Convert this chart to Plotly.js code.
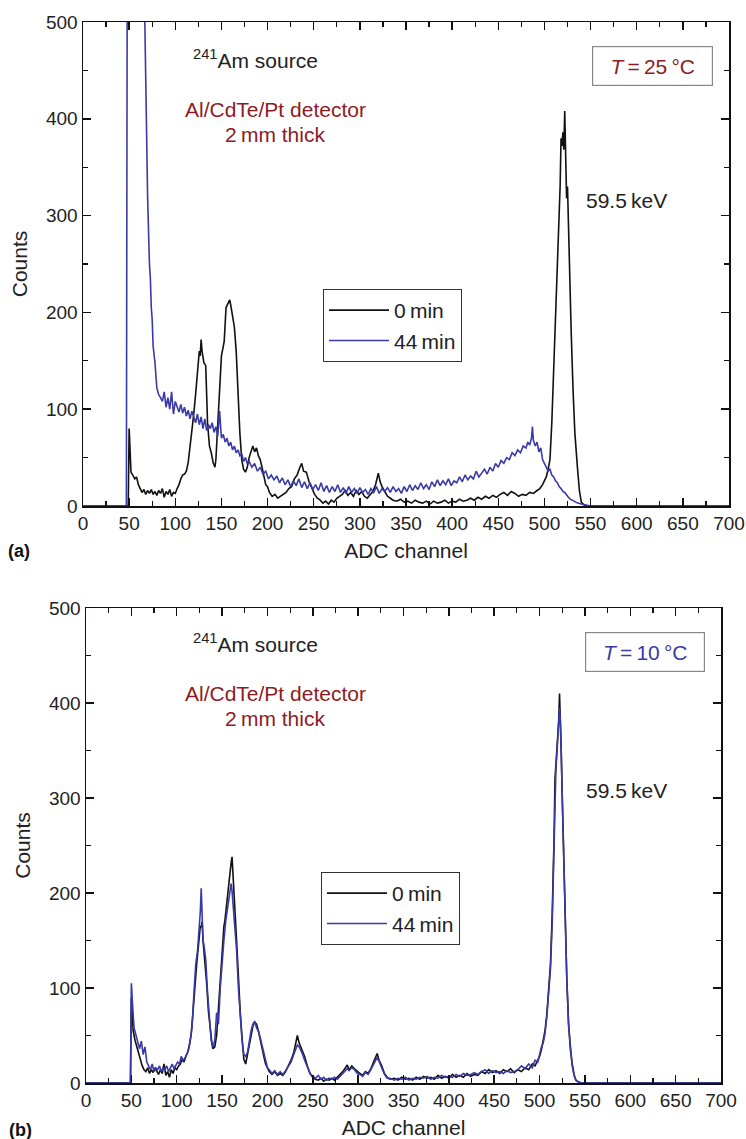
<!DOCTYPE html>
<html>
<head>
<meta charset="utf-8">
<script src="https://cdn.plot.ly/plotly-3.0.1.min.js"></script>
<style>html,body{margin:0;padding:0;background:#fff;}#chart{width:746px;height:1139px;}</style>
</head>
<body>
<div id="chart"></div>
<script>
// ---------- DATA ----------
// (a) T = 25 °C, 0 min
const chA0 = [
  0,49,50,51,52,54,56,58,60,62,
  64,66,68,70,72,74,76,78,80,82,
  84,86,88,90,92,94,96,98,100,102,
  104,106,108,110,112,114,116,118,120,122,
  124,125,126,127,128,129,130,131,133,135,
  137,139,141,143,144,146,148,150,152,153,
  155,157,159,160,162,164,166,168,170,172,
  174,176,178,180,182,184,186,188,190,192,
  194,196,198,200,202,205,208,211,214,217,
  220,223,226,229,232,235,237,239,242,245,
  248,251,254,257,260,263,266,269,272,275,
  278,281,284,287,290,293,296,299,302,305,
  308,311,314,317,320,322,324,327,330,333,
  336,340,344,348,352,356,360,364,368,372,
  376,380,384,388,392,396,400,404,408,412,
  416,420,424,428,432,436,440,444,448,452,
  456,460,464,468,472,476,480,484,488,492,
  495,498,500,502,504,506,508,510,511,513,
  515,517,518,519,520,521,522,523,524,525,
  526,527,529,531,533,536,538,540,543,546,
  600,650,700];
const cntA0 = [
  0,0,80,55,35,32,28,30,22,18,
  14,17,12,16,13,17,12,15,11,16,
  13,18,9,15,12,17,10,14,13,18,
  22,28,32,33,36,45,60,79,95,115,
  135,150,160,155,172,160,152,148,145,85,
  62,55,45,40,48,86,120,155,165,170,
  205,210,213,208,195,185,160,115,75,48,
  38,35,40,50,55,62,56,60,52,48,
  40,32,22,20,14,10,12,8,10,12,
  14,18,20,28,32,40,44,36,35,25,
  18,12,8,6,3,5,2,6,4,8,
  10,12,16,11,14,10,16,12,15,10,
  8,12,15,22,34,25,20,15,10,8,
  6,5,7,4,5,3,6,4,3,5,
  2,5,3,4,6,3,5,4,7,5,
  6,8,6,9,7,10,8,11,9,12,
  14,11,15,13,10,12,11,14,13,16,
  18,22,26,30,38,48,86,140,180,240,
  290,330,380,372,386,368,408,360,318,330,
  290,245,180,120,75,37,15,4,1,0,
  0,0,0];

// (a) T = 25 °C, 44 min
const chA44 = [
  0,47,48,66,67,70,72,73,74,75,
  76,78,80,82,84,86,88,90,92,94,
  96,98,100,102,104,106,108,110,112,114,
  116,118,120,122,124,126,128,130,132,134,
  136,138,140,142,144,146,148,150,152,154,
  156,158,160,162,164,166,168,170,172,174,
  176,178,180,183,186,189,192,195,198,201,
  204,207,210,213,216,219,222,225,228,231,
  234,237,240,243,246,249,252,255,258,261,
  264,267,270,273,276,279,282,285,288,291,
  294,297,300,303,306,309,312,315,318,321,
  324,327,330,333,336,339,342,345,348,351,
  354,357,360,363,366,369,372,375,378,381,
  384,387,390,393,396,399,402,405,408,411,
  414,417,420,423,426,429,432,435,438,441,
  444,447,450,453,456,459,462,465,468,471,
  474,477,480,482,484,486,487,488,490,492,
  494,496,498,500,502,504,506,508,510,512,
  514,516,518,520,522,524,526,528,530,533,
  536,540,545,550,600,650,700];
const cntA44 = [
  0,0,600,600,500,320,250,235,205,192,
  165,148,122,115,112,108,118,102,112,100,
  118,95,108,103,97,105,96,102,93,99,
  90,98,92,86,95,84,92,80,90,78,
  84,80,86,76,82,72,98,70,74,66,
  70,62,66,58,62,55,58,52,54,46,
  50,44,46,40,44,36,40,33,36,28,
  32,27,31,24,29,22,27,20,26,21,
  28,19,25,18,24,17,22,16,24,15,
  21,14,20,15,22,14,19,13,20,14,
  18,13,19,14,17,12,18,14,20,13,
  18,15,19,14,20,15,18,13,20,15,
  22,16,21,17,24,18,22,17,25,20,
  27,21,26,22,28,21,26,24,30,25,
  32,27,31,28,36,30,34,38,33,40,
  36,44,40,47,44,50,48,55,52,58,
  55,62,60,66,63,70,82,68,62,66,
  56,60,48,44,40,36,38,32,30,26,
  24,20,18,15,14,11,9,7,6,4,
  3,2,1,0,0,0,0];

// (b) T = 10 °C, 0 min
const chB0 = [
  0,49,50,51,52,54,56,58,60,62,
  64,66,68,70,72,74,76,78,80,82,
  84,86,88,90,92,94,96,98,100,102,
  104,106,108,110,112,114,116,118,120,122,
  124,125,126,127,128,129,130,131,133,135,
  137,139,140,142,144,146,148,150,152,153,
  155,157,159,160,161,162,164,166,168,170,
  172,174,176,178,180,182,184,186,188,190,
  192,194,196,198,200,202,205,208,211,214,
  217,220,223,226,229,231,233,235,238,241,
  244,247,250,253,256,259,262,265,268,271,
  274,277,280,283,286,288,290,293,296,299,
  302,305,308,311,314,317,320,321,323,326,
  329,332,335,340,344,348,352,356,360,364,
  368,372,376,380,384,388,392,396,400,404,
  408,412,416,420,424,428,432,436,440,444,
  448,452,456,460,464,468,472,476,480,484,
  488,492,495,498,500,502,504,506,508,510,
  512,514,515,516,517,518,519,520,521,522,
  523,524,525,526,527,528,530,532,534,536,
  538,540,543,546,550,600,650,700];
const cntB0 = [
  0,0,90,70,55,45,38,30,22,18,
  14,12,16,10,14,11,16,12,9,14,
  10,20,8,12,6,14,10,16,14,18,
  20,25,22,28,32,40,52,75,105,125,
  145,155,165,164,170,150,140,128,105,75,
  55,40,36,38,50,80,110,140,165,170,
  190,205,225,232,238,215,185,150,110,75,
  48,25,20,30,42,52,60,64,62,55,
  45,38,28,20,15,12,9,12,8,10,
  8,12,18,24,32,42,50,42,35,28,
  18,10,6,4,3,5,2,4,3,5,
  3,6,8,12,16,19,14,18,15,12,
  10,8,12,10,15,22,28,31,24,18,
  10,6,4,5,3,6,4,5,3,6,
  4,7,5,6,4,8,5,7,5,9,
  6,8,6,10,7,9,8,12,10,14,
  11,13,10,14,12,15,11,14,12,16,
  14,20,18,24,28,35,45,55,72,95,
  125,180,215,260,320,335,355,365,380,410,
  385,345,300,255,215,175,110,62,35,20,
  9,3,1,0,0,0,0,0];

// (b) T = 10 °C, 44 min
const chB44 = [
  0,48,49,50,51,52,53,55,57,59,
  61,63,65,67,69,71,73,75,77,79,
  81,83,85,87,89,91,93,95,97,99,
  101,103,105,107,109,111,113,115,117,119,
  121,123,125,126,127,128,129,130,132,134,
  136,138,140,142,144,146,148,150,152,154,
  156,158,159,160,161,162,164,166,168,170,
  172,174,176,178,180,182,184,186,188,190,
  192,194,196,198,200,202,205,208,211,214,
  217,220,223,226,229,231,233,235,238,241,
  244,247,250,253,256,259,262,265,268,271,
  274,277,280,283,286,288,290,293,296,299,
  302,305,308,311,314,317,320,321,323,326,
  329,332,335,340,344,348,352,356,360,364,
  368,372,376,380,384,388,392,396,400,404,
  408,412,416,420,424,428,432,436,440,444,
  448,452,456,460,464,468,472,476,480,484,
  488,492,495,498,500,502,504,506,508,510,
  512,514,515,516,517,518,519,520,521,522,
  523,524,525,526,527,528,530,532,534,536,
  538,540,543,546,550,600,650,700];
const cntB44 = [
  0,0,0,105,80,72,58,50,45,36,
  44,30,38,22,18,14,20,12,16,14,
  18,12,16,14,18,12,16,20,15,18,
  22,20,28,24,26,30,35,45,60,95,
  125,140,165,180,205,175,150,145,130,95,
  65,45,38,45,74,62,100,130,150,170,
  182,195,200,210,202,190,170,140,100,70,
  45,30,28,32,45,55,62,65,58,55,
  48,40,30,22,16,14,10,13,9,12,
  9,13,17,22,30,36,40,38,32,24,
  16,10,7,5,8,4,6,3,5,4,
  6,4,7,10,13,15,13,16,14,10,
  9,7,11,9,14,20,25,27,23,16,
  9,5,5,3,5,4,6,3,5,4,
  6,5,7,4,6,5,8,6,7,6,
  9,7,10,8,9,11,9,12,14,10,
  13,11,12,10,13,11,12,14,18,15,
  20,16,24,22,30,38,42,52,70,95,
  120,170,210,250,311,330,345,362,368,395,
  380,340,300,258,215,175,110,60,35,18,
  8,3,1,0,0,0,0,0];

const seriesNames = ['0\u2009min', '44\u2009min'];
const xTickVals = [0,50,100,150,200,250,300,350,400,450,500,550,600,650,700];
const yTickVals = [0,100,200,300,400,500];

// ---------- STYLE ----------
const W = 746, H = 1139;
const FONT = 'Liberation Sans, Arial, Helvetica, sans-serif';
const BLACK = '#111111';
const BLUE = '#3a3aa6';
const RED = '#8c1b24';
const TXT = '#222222';
const TICKSIZE = 19, TEXTSIZE = 21;

function px(x){ return x / W; }
function py(y){ return 1 - y / H; }

function xAxis(domain, anchor){
  return {
    domain: domain, anchor: anchor, range: [0,700],
    tickmode: 'array', tickvals: xTickVals,
    showline: true, linecolor: BLACK, linewidth: 1.5, mirror: 'ticks',
    ticks: 'inside', ticklen: 8, tickwidth: 1.5, tickcolor: BLACK,
    minor: {dtick: 25, tick0: 0, ticks: 'inside', ticklen: 5, tickwidth: 1.2, tickcolor: BLACK, showgrid: false},
    showgrid: false, zeroline: false, automargin: false, fixedrange: true,
    tickfont: {family: FONT, size: TICKSIZE, color: TXT},
    title: {text: 'ADC channel', font: {family: FONT, size: TEXTSIZE, color: TXT}, standoff: 10}
  };
}
function yAxis(domain, anchor){
  return {
    domain: domain, anchor: anchor, range: [0,500],
    tickmode: 'array', tickvals: yTickVals,
    showline: true, linecolor: BLACK, linewidth: 1.5, mirror: 'ticks',
    ticks: 'inside', ticklen: 8, tickwidth: 1.5, tickcolor: BLACK,
    minor: {dtick: 50, tick0: 0, ticks: 'inside', ticklen: 5, tickwidth: 1.2, tickcolor: BLACK, showgrid: false},
    showgrid: false, zeroline: false, automargin: false, fixedrange: true,
    tickfont: {family: FONT, size: TICKSIZE, color: TXT},
    title: {text: 'Counts', font: {family: FONT, size: TEXTSIZE, color: TXT}, standoff: 12}
  };
}

const traces = [
  {x: chA0, y: cntA0, name: seriesNames[0], type: 'scatter', mode: 'lines', xaxis: 'x', yaxis: 'y', legend: 'legend',
   line: {color: BLACK, width: 1.6}},
  {x: chA44, y: cntA44, name: seriesNames[1], type: 'scatter', mode: 'lines', xaxis: 'x', yaxis: 'y', legend: 'legend',
   line: {color: BLUE, width: 1.6}},
  {x: chB0, y: cntB0, name: seriesNames[0], type: 'scatter', mode: 'lines', xaxis: 'x2', yaxis: 'y2', legend: 'legend2',
   line: {color: BLACK, width: 1.6}},
  {x: chB44, y: cntB44, name: seriesNames[1], type: 'scatter', mode: 'lines', xaxis: 'x2', yaxis: 'y2', legend: 'legend2',
   line: {color: BLUE, width: 1.6}}
];

function ann(text, x, y, color, extra){
  return Object.assign({xref: 'paper', yref: 'paper', x: px(x), y: py(y), xanchor: 'center', yanchor: 'middle',
    text: text, showarrow: false, font: {family: FONT, size: TEXTSIZE, color: color}}, extra || {});
}

const annotations = [
  ann('<sup>241</sup>Am source', 255, 59, TXT),
  ann('Al/CdTe/Pt detector', 275, 110, RED),
  ann('2\u2009mm thick', 275, 135, RED),
  ann('59.5\u2009keV', 626, 200, TXT),
  ann('<i>T</i>\u2009=\u200925\u2009°C', 652, 66, RED, {bordercolor: '#888', borderwidth: 1.2, borderpad: 1, width: 117, height: 36, bgcolor: '#fff'}),
  ann('<b>(a)</b>', 19, 551, '#111', {font: {family: FONT, size: 18, color: '#111'}}),

  ann('<sup>241</sup>Am source', 255, 643, TXT),
  ann('Al/CdTe/Pt detector', 275, 693, RED),
  ann('2\u2009mm thick', 275, 718, RED),
  ann('59.5\u2009keV', 626, 790, TXT),
  ann('<i>T</i>\u2009=\u200910\u2009°C', 645, 652, BLUE, {bordercolor: '#888', borderwidth: 1.2, borderpad: 1, width: 116, height: 36, bgcolor: '#fff'}),
  ann('<b>(b)</b>', 20, 1130, '#111', {font: {family: FONT, size: 18, color: '#111'}})
];

function legendCfg(x, y){
  return {x: px(x), y: py(y), xanchor: 'left', yanchor: 'top', bordercolor: '#333', borderwidth: 1,
    bgcolor: '#fff', font: {family: FONT, size: TEXTSIZE, color: TXT}, itemwidth: 60, tracegroupgap: 0};
}

const layout = {
  width: W, height: H,
  margin: {l: 0, r: 0, t: 0, b: 0},
  paper_bgcolor: '#fff', plot_bgcolor: '#fff',
  showlegend: true,
  xaxis: xAxis([83/W, 729/W], 'y'),
  yaxis: yAxis([py(506), py(22)], 'x'),
  xaxis2: xAxis([86/W, 721/W], 'y2'),
  yaxis2: yAxis([py(1083), py(608)], 'x2'),
  legend: legendCfg(323, 289),
  legend2: legendCfg(321, 872),
  annotations: annotations,
  font: {family: FONT, size: TEXTSIZE, color: TXT}
};

Plotly.newPlot('chart', traces, layout, {displayModeBar: false, staticPlot: true});
</script>
</body>
</html>
